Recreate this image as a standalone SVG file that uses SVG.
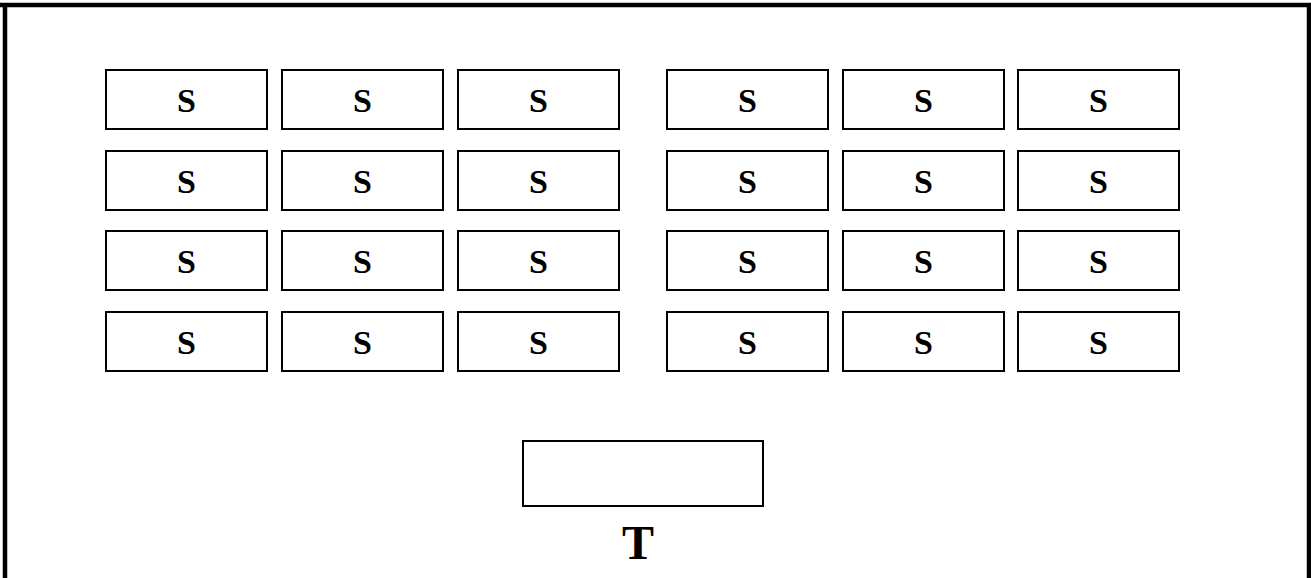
<svg xmlns="http://www.w3.org/2000/svg" width="1311" height="578" viewBox="0 0 1311 578">
  <style>
    .box { fill: #fff; stroke: #000; stroke-width: 2; }
    .frame { stroke: #000; stroke-width: 4.5; fill: none; }
    .s { font-family: "Liberation Serif", "Times New Roman", serif; font-weight: bold; font-size: 34px; text-anchor: middle; fill: #000; }
    .t { font-family: "Liberation Serif", "Times New Roman", serif; font-weight: bold; font-size: 48px; text-anchor: middle; fill: #000; }
  </style>
  <rect width="1311" height="578" fill="#fff"/>
  <!-- outer frame: top, left and right edges -->
  <g id="frame">
    <line class="frame" x1="0" y1="5" x2="1311" y2="5"/>
    <line class="frame" x1="5" y1="3" x2="5" y2="578"/>
    <line class="frame" x1="1309" y1="3" x2="1309" y2="578"/>
  </g>
  <!-- row 1 -->
  <g id="s-1-1"><rect class="box" x="106" y="70" width="161" height="59"/><text class="s" x="186.5" y="112">S</text></g>
  <g id="s-1-2"><rect class="box" x="282" y="70" width="161" height="59"/><text class="s" x="362.5" y="112">S</text></g>
  <g id="s-1-3"><rect class="box" x="458" y="70" width="161" height="59"/><text class="s" x="538.5" y="112">S</text></g>
  <g id="s-1-4"><rect class="box" x="667" y="70" width="161" height="59"/><text class="s" x="747.5" y="112">S</text></g>
  <g id="s-1-5"><rect class="box" x="843" y="70" width="161" height="59"/><text class="s" x="923.5" y="112">S</text></g>
  <g id="s-1-6"><rect class="box" x="1018" y="70" width="161" height="59"/><text class="s" x="1098.5" y="112">S</text></g>
  <!-- row 2 -->
  <g id="s-2-1"><rect class="box" x="106" y="151" width="161" height="59"/><text class="s" x="186.5" y="193">S</text></g>
  <g id="s-2-2"><rect class="box" x="282" y="151" width="161" height="59"/><text class="s" x="362.5" y="193">S</text></g>
  <g id="s-2-3"><rect class="box" x="458" y="151" width="161" height="59"/><text class="s" x="538.5" y="193">S</text></g>
  <g id="s-2-4"><rect class="box" x="667" y="151" width="161" height="59"/><text class="s" x="747.5" y="193">S</text></g>
  <g id="s-2-5"><rect class="box" x="843" y="151" width="161" height="59"/><text class="s" x="923.5" y="193">S</text></g>
  <g id="s-2-6"><rect class="box" x="1018" y="151" width="161" height="59"/><text class="s" x="1098.5" y="193">S</text></g>
  <!-- row 3 -->
  <g id="s-3-1"><rect class="box" x="106" y="231" width="161" height="59"/><text class="s" x="186.5" y="273">S</text></g>
  <g id="s-3-2"><rect class="box" x="282" y="231" width="161" height="59"/><text class="s" x="362.5" y="273">S</text></g>
  <g id="s-3-3"><rect class="box" x="458" y="231" width="161" height="59"/><text class="s" x="538.5" y="273">S</text></g>
  <g id="s-3-4"><rect class="box" x="667" y="231" width="161" height="59"/><text class="s" x="747.5" y="273">S</text></g>
  <g id="s-3-5"><rect class="box" x="843" y="231" width="161" height="59"/><text class="s" x="923.5" y="273">S</text></g>
  <g id="s-3-6"><rect class="box" x="1018" y="231" width="161" height="59"/><text class="s" x="1098.5" y="273">S</text></g>
  <!-- row 4 -->
  <g id="s-4-1"><rect class="box" x="106" y="312" width="161" height="59"/><text class="s" x="186.5" y="354">S</text></g>
  <g id="s-4-2"><rect class="box" x="282" y="312" width="161" height="59"/><text class="s" x="362.5" y="354">S</text></g>
  <g id="s-4-3"><rect class="box" x="458" y="312" width="161" height="59"/><text class="s" x="538.5" y="354">S</text></g>
  <g id="s-4-4"><rect class="box" x="667" y="312" width="161" height="59"/><text class="s" x="747.5" y="354">S</text></g>
  <g id="s-4-5"><rect class="box" x="843" y="312" width="161" height="59"/><text class="s" x="923.5" y="354">S</text></g>
  <g id="s-4-6"><rect class="box" x="1018" y="312" width="161" height="59"/><text class="s" x="1098.5" y="354">S</text></g>
  <!-- T block with its caption below -->
  <g id="t">
    <rect class="box" x="523" y="441" width="240" height="65"/>
    <text class="t" x="638" y="559">T</text>
  </g>
  <g id="connectors"/>
</svg>
